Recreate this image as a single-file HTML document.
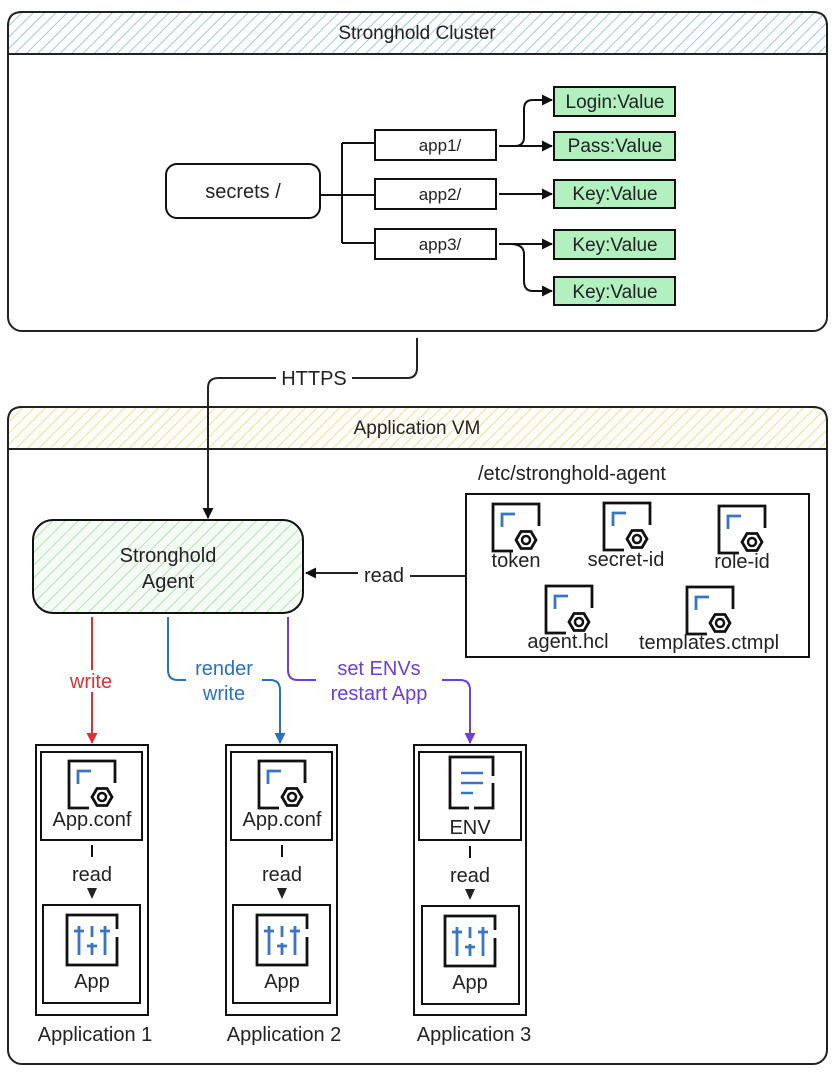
<!DOCTYPE html>
<html><head><meta charset="utf-8"><style>
html,body{margin:0;padding:0;background:#fff}
svg{display:block;font-family:"Liberation Sans",sans-serif}
</style></head><body>
<svg width="834" height="1075" viewBox="0 0 834 1075" xmlns="http://www.w3.org/2000/svg">
<defs>
<pattern id="hb" patternUnits="userSpaceOnUse" width="8" height="8" patternTransform="rotate(45)"><rect width="8" height="8" fill="#fff"/><line x1="0" y1="0" x2="0" y2="8" stroke="#9cc8ec" stroke-width="2"/></pattern>
<pattern id="hy" patternUnits="userSpaceOnUse" width="8" height="8" patternTransform="rotate(45)"><rect width="8" height="8" fill="#fff"/><line x1="0" y1="0" x2="0" y2="8" stroke="#f2df8a" stroke-width="2"/></pattern>
<pattern id="hg" patternUnits="userSpaceOnUse" width="9" height="9" patternTransform="rotate(45)"><rect width="9" height="9" fill="#f4fbf4"/><line x1="0" y1="0" x2="0" y2="9" stroke="#b5e0b5" stroke-width="2"/></pattern>
<marker id="ak" markerWidth="11" markerHeight="11" refX="10" refY="5.5" orient="auto" markerUnits="userSpaceOnUse"><path d="M0,0 L11,5.5 L0,11z" fill="#111"/></marker>
<marker id="ar" markerWidth="11" markerHeight="11" refX="10" refY="5.5" orient="auto" markerUnits="userSpaceOnUse"><path d="M0,0 L11,5.5 L0,11z" fill="#e03030"/></marker>
<marker id="ab" markerWidth="11" markerHeight="11" refX="10" refY="5.5" orient="auto" markerUnits="userSpaceOnUse"><path d="M0,0 L11,5.5 L0,11z" fill="#2a70c0"/></marker>
<marker id="ap" markerWidth="11" markerHeight="11" refX="10" refY="5.5" orient="auto" markerUnits="userSpaceOnUse"><path d="M0,0 L11,5.5 L0,11z" fill="#6a40d8"/></marker>
<g id="doc">
<path d="M20 47 H0 V0 H46 V22" fill="none" stroke="#111" stroke-width="2.8"/>
<path d="M9 23 V10 H22" fill="none" stroke="#3a74c4" stroke-width="2.8"/>
<polygon points="23,36 28,27.5 38,27.5 43,36 38,44.5 28,44.5" fill="#fff" stroke="#111" stroke-width="2.8"/>
<circle cx="33" cy="36" r="4" fill="none" stroke="#111" stroke-width="2.5"/>
</g>
<g id="app">
<path d="M50 14 V0 H0 V50 H50 V22" fill="none" stroke="#111" stroke-width="2.8"/>
<g stroke="#3a74c4" stroke-width="2.8" fill="none">
<path d="M12 11 V40 M7 16 H17"/><path d="M25 11 V22 M25 28 V40 M20 31 H30"/><path d="M38 11 V40 M33 16 H43"/>
</g>
</g>
</defs>

<!-- Stronghold Cluster -->
<rect x="8" y="12" width="819" height="319" rx="14" fill="#fff" stroke="#222" stroke-width="2"/>
<path d="M8 54 V26 Q8 12 22 12 H813 Q827 12 827 26 V54 Z" fill="url(#hb)" stroke="#222" stroke-width="2"/>
<text x="417" y="39" text-anchor="middle" font-size="19" fill="#222">Stronghold Cluster</text>

<rect x="166" y="164" width="154" height="54" rx="11" fill="#fff" stroke="#111" stroke-width="2"/>
<text x="243" y="198" text-anchor="middle" font-size="20" fill="#222">secrets /</text>
<path d="M320 195 H375 M342 143 V243 M342 143 H375 M342 243 H375" fill="none" stroke="#111" stroke-width="2"/>
<g fill="#fff" stroke="#111" stroke-width="2">
<rect x="375" y="130" width="121" height="30"/><rect x="375" y="179" width="121" height="30"/><rect x="375" y="229" width="121" height="30"/>
</g>
<g font-size="17" fill="#222" text-anchor="middle">
<text x="440" y="151">app1/</text><text x="440" y="200">app2/</text><text x="440" y="250">app3/</text>
</g>
<g fill="none" stroke="#111" stroke-width="2">
<path d="M499 146 H515 Q524 146 524 137 V109 Q524 100 533 100 H552" marker-end="url(#ak)"/>
<path d="M499 146 H552" marker-end="url(#ak)"/>
<path d="M499 194 H552" marker-end="url(#ak)"/>
<path d="M499 244 H552" marker-end="url(#ak)"/>
<path d="M510 244 Q524 244 524 254 V281 Q524 291 533 291 H552" marker-end="url(#ak)"/>
</g>
<g fill="#b3f0c0" stroke="#111" stroke-width="2">
<rect x="554" y="87" width="121" height="29"/><rect x="554" y="132" width="121" height="28"/><rect x="554" y="180" width="121" height="28"/><rect x="554" y="230" width="121" height="29"/><rect x="554" y="277" width="121" height="28"/>
</g>
<g font-size="19" fill="#222" text-anchor="middle">
<text x="615" y="108">Login:Value</text><text x="615" y="152">Pass:Value</text><text x="615" y="200">Key:Value</text><text x="615" y="251">Key:Value</text><text x="615" y="298">Key:Value</text>
</g>

<!-- Application VM -->
<rect x="8" y="407" width="819" height="657" rx="14" fill="none" stroke="#222" stroke-width="2"/>
<path d="M8 449 V421 Q8 407 22 407 H813 Q827 407 827 421 V449 Z" fill="url(#hy)" stroke="#222" stroke-width="2"/>
<text x="417" y="434" text-anchor="middle" font-size="19" fill="#222">Application VM</text>

<!-- HTTPS -->
<path d="M417 338 V368 Q417 378 407 378 H218 Q208 378 208 388 V518" fill="none" stroke="#222" stroke-width="2" marker-end="url(#ak)"/>
<rect x="276" y="366" width="76" height="24" fill="#fff"/>
<text x="314" y="385" text-anchor="middle" font-size="20" fill="#222">HTTPS</text>

<rect x="33" y="520" width="270" height="93" rx="20" fill="url(#hg)" stroke="#111" stroke-width="2"/>
<text x="168" y="562" text-anchor="middle" font-size="20" fill="#222">Stronghold</text>
<text x="168" y="588" text-anchor="middle" font-size="20" fill="#222">Agent</text>

<text x="478" y="480" font-size="20" fill="#222">/etc/stronghold-agent</text>
<rect x="466" y="494" width="343" height="163" fill="#fff" stroke="#111" stroke-width="2"/>
<path d="M466 576 H410" fill="none" stroke="#222" stroke-width="2"/>
<path d="M358 573 H306" fill="none" stroke="#222" stroke-width="2" marker-end="url(#ak)"/>
<text x="384" y="582" text-anchor="middle" font-size="20" fill="#222">read</text>

<use href="#doc" x="493" y="504"/><use href="#doc" x="604" y="503"/><use href="#doc" x="719" y="506"/>
<use href="#doc" x="546" y="586"/><use href="#doc" x="687" y="587"/>
<g font-size="20" fill="#222" text-anchor="middle">
<text x="516" y="567">token</text><text x="626" y="566">secret-id</text><text x="742" y="568">role-id</text>
<text x="568" y="648">agent.hcl</text><text x="709" y="649">templates.ctmpl</text>
</g>

<!-- colored connectors -->
<path d="M92 617 V743" fill="none" stroke="#e03030" stroke-width="2" marker-end="url(#ar)"/>
<rect x="62" y="670" width="60" height="22" fill="#fff"/>
<text x="91" y="688" text-anchor="middle" font-size="20" fill="#e03030">write</text>

<path d="M168 617 V670 Q168 680 178 680 H270 Q280 680 280 690 V743" fill="none" stroke="#2a70c0" stroke-width="2" marker-end="url(#ab)"/>
<rect x="186" y="655" width="76" height="48" fill="#fff"/>
<text x="224" y="675" text-anchor="middle" font-size="20" fill="#2a70c0">render</text>
<text x="224" y="700" text-anchor="middle" font-size="20" fill="#2a70c0">write</text>

<path d="M288 617 V670 Q288 680 298 680 H460 Q470 680 470 690 V743" fill="none" stroke="#6a40d8" stroke-width="2" marker-end="url(#ap)"/>
<rect x="316" y="655" width="126" height="48" fill="#fff"/>
<text x="379" y="675" text-anchor="middle" font-size="20" fill="#6a40d8">set ENVs</text>
<text x="379" y="700" text-anchor="middle" font-size="20" fill="#6a40d8">restart App</text>

<!-- Applications -->
<g fill="none" stroke="#111" stroke-width="2">
<rect x="36" y="745" width="112" height="270"/><rect x="41" y="752" width="101" height="88"/><rect x="43" y="905" width="97" height="98"/>
<rect x="226" y="745" width="111" height="270"/><rect x="231" y="752" width="101" height="88"/><rect x="233" y="905" width="97" height="98"/>
<rect x="414" y="745" width="112" height="270"/><rect x="419" y="752" width="102" height="88"/><rect x="422" y="906" width="97" height="98"/>
<path d="M92 845 V857 M282 845 V857 M470 846 V858"/>
</g>
<g fill="#222">
<path d="M87 888 L97 888 L92 899z"/><path d="M277 888 L287 888 L282 899z"/><path d="M465 889 L475 889 L470 900z"/>
</g>
<use href="#doc" x="69" y="761"/><use href="#doc" x="259" y="761"/>
<path d="M469 808 H450 V757 H493 V776 M493 783 V808 H474" fill="none" stroke="#111" stroke-width="2.8"/>
<path d="M461 773 H483 M461 783 H483 M461 793 H473" stroke="#3a74c4" stroke-width="2.5"/>
<use href="#app" x="67" y="915"/><use href="#app" x="257" y="915"/><use href="#app" x="445" y="916"/>
<g font-size="20" fill="#222" text-anchor="middle">
<text x="92" y="826">App.conf</text><text x="282" y="826">App.conf</text><text x="470" y="834">ENV</text>
<text x="92" y="881">read</text><text x="282" y="881">read</text><text x="470" y="882">read</text>
<text x="92" y="988">App</text><text x="282" y="988">App</text><text x="470" y="989">App</text>
<text x="95" y="1041">Application 1</text><text x="284" y="1041">Application 2</text><text x="474" y="1041">Application 3</text>
</g>
</svg>
</body></html>
